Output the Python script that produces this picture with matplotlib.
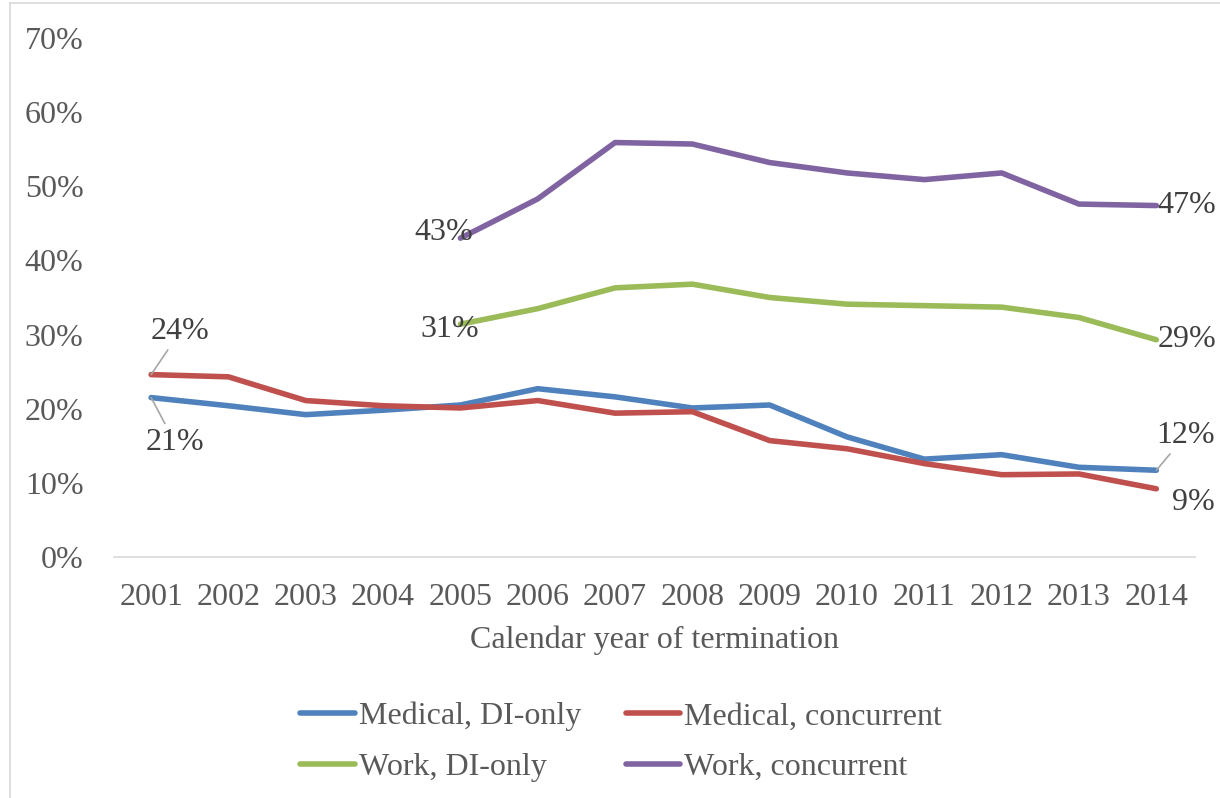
import numpy as np
import matplotlib
matplotlib.use("Agg")
import matplotlib.pyplot as plt
from matplotlib.lines import Line2D

YEARS = [str(y) for y in range(2001, 2015)]
MED_DI = [21.5, 20.4, 19.2, 19.8, 20.5, 22.7, 21.6, 20.1, 20.5, 16.2, 13.2, 13.8, 12.1, 11.7]
MED_CONC = [24.6, 24.3, 21.1, 20.4, 20.1, 21.1, 19.4, 19.6, 15.7, 14.6, 12.6, 11.1, 11.2, 9.2]
WORK_DI = [np.nan] * 4 + [31.4, 33.5, 36.3, 36.8, 35.0, 34.1, 33.9, 33.7, 32.3, 29.3]
WORK_CONC = [np.nan] * 4 + [43.0, 48.3, 55.9, 55.7, 53.2, 51.8, 50.9, 51.8, 47.6, 47.4]
SERIES = {
    "Medical, DI-only": (MED_DI, "#4F81BD"),
    "Medical, concurrent": (MED_CONC, "#C0504D"),
    "Work, DI-only": (WORK_DI, "#9BBB59"),
    "Work, concurrent": (WORK_CONC, "#8064A2"),
}
# (series, index, label, offset in points, ha, leader line)
LABELS = [
    (MED_CONC, 0, "24%", (21, 31), "center", True),
    (MED_DI, 0, "21%", (17, -32), "center", True),
    (WORK_DI, 4, "31%", (-8, -4), "center", False),
    (WORK_CONC, 4, "43%", (-12, 4), "center", False),
    (WORK_CONC, 13, "47%", (1, 0), "left", False),
    (WORK_DI, 13, "29%", (1, 0), "left", False),
    (MED_DI, 13, "12%", (21, 25), "center", True),
    (MED_CONC, 13, "9%", (27, -10), "center", False),
]

plt.rcParams["font.family"] = ["Liberation Serif", "DejaVu Serif"]
TICK = "#595959"
LAB = "#404040"
FS = 23

fig = plt.figure(figsize=(12.2, 7.98), dpi=100)
ax = fig.add_axes([114 / 1220, 1 - 557 / 798, 1081 / 1220, 519 / 798])
x = np.arange(len(YEARS))
lines = {}
for name, (vals, col) in SERIES.items():
    lines[name], = ax.plot(x, vals, color=col, lw=4.0, label=name, solid_capstyle="round")

ax.set_xlim(-0.48, len(YEARS) - 0.5)
ax.set_ylim(0, 70)
ax.set_yticks(range(0, 71, 10))
ax.set_yticklabels([f"{v}%" for v in range(0, 71, 10)])
ax.set_xticks(x)
ax.set_xticklabels(YEARS)
ax.tick_params(axis="both", length=0, labelsize=FS, colors=TICK)
ax.tick_params(axis="x", pad=19)
ax.tick_params(axis="y", pad=22)
for s in ("top", "right", "left"):
    ax.spines[s].set_visible(False)
ax.spines["bottom"].set_color("#D9D9D9")
ax.spines["bottom"].set_linewidth(1.2)
ax.set_xlabel("Calendar year of termination", fontsize=FS, color=TICK)
ax.xaxis.set_label_coords(0.5, -0.160)
ax.xaxis.label.set_va("center")

lead = dict(arrowstyle="-", color="#A6A6A6", lw=1.2, shrinkA=1, shrinkB=0)
for vals, i, txt, off, ha, has_lead in LABELS:
    ax.annotate(txt, xy=(i, vals[i]), xytext=off, textcoords="offset points",
                fontsize=FS, color=LAB, ha=ha, va="center",
                arrowprops=lead if has_lead else None)

order = ["Medical, DI-only", "Work, DI-only", "Medical, concurrent", "Work, concurrent"]
fig.legend([lines[n] for n in order], order, loc="center",
           bbox_to_anchor=(0.509, 1 - 742 / 798), ncol=2, frameon=False,
           fontsize=FS, handlelength=1.72, handletextpad=0.1, columnspacing=1.4,
           labelspacing=0.67, labelcolor=TICK)

# chart-area border
fig.add_artist(Line2D([10 / 1220, 10 / 1220], [0, 1 - 3 / 798], color="#D9D9D9", lw=1.2))
fig.add_artist(Line2D([10 / 1220, 1], [1 - 3 / 798, 1 - 3 / 798], color="#D9D9D9", lw=1.2))

fig.savefig("out.png", dpi=100)
